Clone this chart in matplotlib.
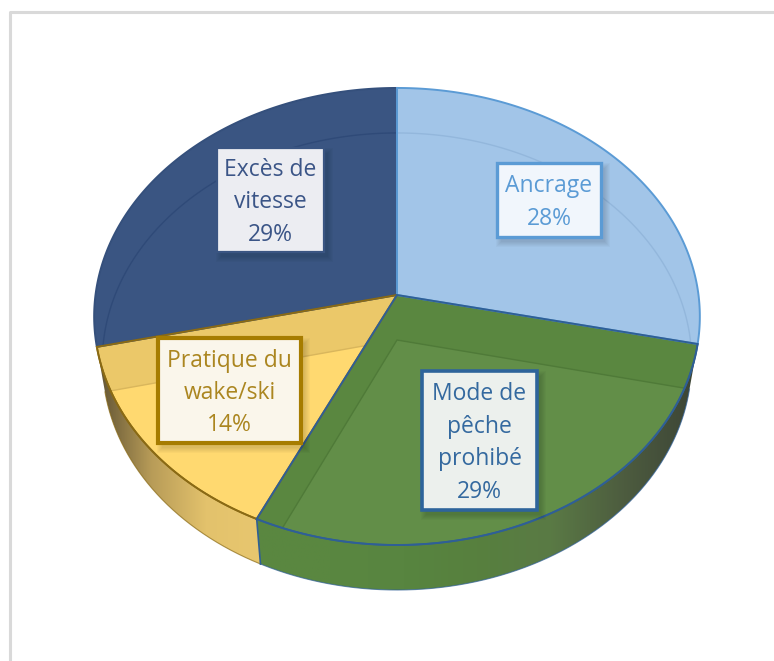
import matplotlib
matplotlib.use("Agg")
import matplotlib.pyplot as plt
import numpy as np
from matplotlib.patches import Polygon, Rectangle
from matplotlib.colors import LinearSegmentedColormap

# clockwise from 12 o'clock
categories = ["Ancrage", "Mode de\npêche\nprohibé", "Pratique du\nwake/ski", "Excès de\nvitesse"]
shares = [28.4, 28.6, 14.4, 28.6]

# look of each slice, same order as categories
back_col = ["#a2c5e8", "#5a8740", "#ebc869", "#3a5582"]
front_col = ["#a2c5e8", "#628e48", "#ffd970", "#3a5582"]
edge_col = ["#5b9bd5", "#2f5f96", "#8a6a14", "#35507c"]
inner_col = ["#93b7dc", "#4f7a38", "#d9b65c", "#2f4a78"]
wall_stops = [None,
              ["#5a8740", "#5a8740", "#588540", "#57803e", "#5a7a45", "#4d5c3f", "#3c4436"],
              ["#5f5233", "#b89c58", "#e3c26c", "#e8c76f"],
              None]
box_edge = ["#5b9bd5", "#2e649b", "#a67c00", "#3a5582"]
box_face = ["#f1f6fc", "#ecf0ed", "#faf6eb", "#ecedf2"]
text_col = ["#5b9bd5", "#34699f", "#ab8620", "#3b5587"]
box_lw = [2.4, 2.6, 3.0, 1.6]
# left, top, right, bottom in pixels
boxes = [(497, 163, 601, 237), (422, 371, 537, 510), (158, 338, 301, 443), (217, 148, 324, 252)]

cx, cy, rx, ry, k = 397, 295, 301.5, 226.5, 0.094
depth, bottom_sx = 45, 0.973


def rim(t, dy=0, sx=1.0):
    # perspective circle, t in degrees clockwise from the back
    a = np.radians(t)
    u, v = np.sin(a), -np.cos(a)
    w = 1 - k * v
    return np.column_stack([cx + rx * sx * u / w, cy + dy + ry * v / w])


def sector(t0, t1, dy=0, sx=1.0):
    arc = rim(np.linspace(t0, t1, 200), dy, sx)
    return np.vstack([[cx, cy + dy], arc])


fig = plt.figure(figsize=(7.74, 6.61), dpi=100)
ax = fig.add_axes([0, 0, 1, 1])
ax.axis("off")

# chart frame, only top and left are in view
ax.plot([9.5, 9.5, 774], [661, 11.5, 11.5], color="#d9d9d9", lw=2.2, zorder=0)

edges = np.concatenate([[0], np.cumsum(shares)]) / sum(shares) * 360
order = [3, 0, 2, 1]

# side walls
for i in [2, 1]:
    t0, t1 = edges[i], edges[i + 1]
    t0v, t1v = max(t0, 90), min(t1, 270)
    ts = np.linspace(t0v, t1v, 200)
    wall = np.vstack([rim(ts), rim(ts[::-1], depth, bottom_sx)])
    xmin, xmax = wall[:, 0].min(), wall[:, 0].max()
    stops = wall_stops[i]
    cmap = LinearSegmentedColormap.from_list("wall", stops)
    im = ax.imshow(np.linspace(0, 1, 256)[None, :], cmap=cmap, aspect="auto",
                   extent=[xmin, xmax, wall[:, 1].max(), wall[:, 1].min()], zorder=1)
    p = Polygon(wall, closed=True, fc="none", ec="none", transform=ax.transData)
    ax.add_patch(p)
    im.set_clip_path(p)
    ax.plot(*rim(ts, depth, bottom_sx).T, color=edge_col[i], lw=0.8, alpha=0.7, zorder=2)
    ax.plot(*rim(ts).T, color=edge_col[i], lw=1.2, zorder=5)
# wall edge between yellow and green
ax.plot(*np.vstack([rim(edges[2]), rim(edges[2], depth, bottom_sx)]).T,
        color=edge_col[1], lw=1.2, zorder=5)

# top faces, the floor of the pie shows through as a second tone
for z, i in enumerate(order):
    t0, t1 = edges[i], edges[i + 1]
    top = sector(t0, t1)
    base = Polygon(top, closed=True, fc=back_col[i], ec="none", zorder=3 + z * 0.1)
    ax.add_patch(base)
    floor = Polygon(sector(t0, t1, depth, bottom_sx), closed=True, fc=front_col[i], ec="none",
                    zorder=3 + z * 0.1 + 0.01)
    ax.add_patch(floor)
    floor.set_clip_path(base)
    line = Polygon(sector(t0, t1, depth, bottom_sx), closed=True, fc="none", ec=inner_col[i],
                   lw=1.0, zorder=3 + z * 0.1 + 0.02)
    ax.add_patch(line)
    line.set_clip_path(base)

for i in order:
    ax.add_patch(Polygon(sector(edges[i], edges[i + 1]), closed=True, fc="none",
                         ec=edge_col[i], lw=1.4, zorder=6))

# data labels
for cat, val, b, ec, fc, tc, lw in zip(categories, shares, boxes, box_edge, box_face, text_col, box_lw):
    l, t, r, bt = b
    for g in range(6):
        ax.add_patch(Rectangle((l + 4 - g, t + 5 - g), r - l + 2 * g, bt - t + 2 * g,
                               fc="black", ec="none", alpha=0.025, zorder=7))
    ax.add_patch(Rectangle((l, t), r - l, bt - t, fc=fc, ec=ec, lw=lw, zorder=8))
    ax.text((l + r) / 2, (t + bt) / 2 + 2.5, "{}\n{}%".format(cat, int(round(val))), color=tc,
            ha="center", va="center", fontsize=16.5, family="Open Sans", linespacing=1.47, zorder=9)

ax.set_xlim(0, 774)
ax.set_ylim(661, 0)
fig.savefig("out.png", dpi=100, facecolor="white")
